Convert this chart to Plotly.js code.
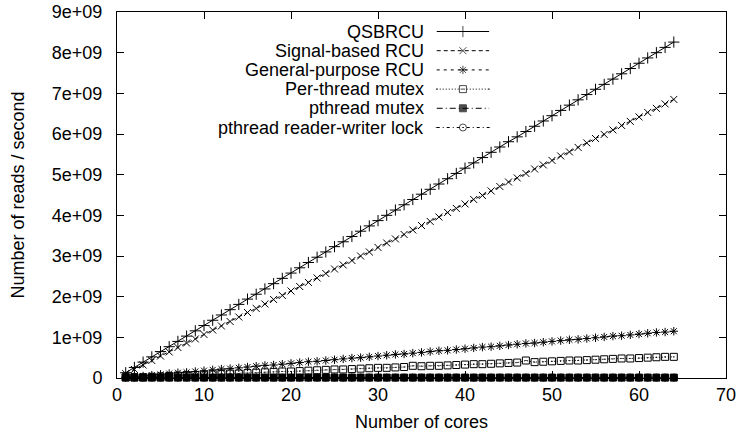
<!DOCTYPE html>
<html><head><meta charset="utf-8">
<script src="https://cdn.plot.ly/plotly-3.0.1.min.js"></script>
<style>html,body{margin:0;padding:0;background:#fff}#chart{width:737px;height:433px}</style>
</head><body><div id="chart"></div>
<script>
// Values in units of 1e9 reads/second
const cores = [1,2,3,4,5,6,7,8,9,10,11,12,13,14,15,16,17,18,19,20,21,22,23,24,25,26,27,28,29,30,31,32,33,34,35,36,37,38,39,40,41,42,43,44,45,46,47,48,49,50,51,52,53,54,55,56,57,58,59,60,61,62,63,64];
const qsbrcu = [0.13,0.26,0.39,0.52,0.65,0.77,0.90,1.03,1.16,1.29,1.42,1.55,1.68,1.81,1.94,2.06,2.19,2.32,2.45,2.58,2.71,2.84,2.97,3.10,3.23,3.35,3.48,3.61,3.74,3.87,4.00,4.13,4.26,4.39,4.52,4.64,4.77,4.90,5.03,5.16,5.29,5.42,5.55,5.68,5.81,5.93,6.06,6.19,6.32,6.45,6.58,6.71,6.84,6.97,7.10,7.22,7.35,7.48,7.61,7.74,7.87,8.00,8.13,8.26];
const signalRcu = [0.11,0.21,0.32,0.43,0.54,0.64,0.75,0.86,0.96,1.07,1.18,1.28,1.39,1.50,1.61,1.71,1.82,1.93,2.03,2.14,2.25,2.35,2.46,2.57,2.68,2.78,2.89,3.00,3.10,3.21,3.32,3.42,3.53,3.64,3.75,3.85,3.96,4.07,4.17,4.28,4.39,4.49,4.60,4.71,4.82,4.92,5.03,5.14,5.24,5.35,5.46,5.56,5.67,5.78,5.89,5.99,6.10,6.21,6.31,6.42,6.53,6.63,6.74,6.85];
const generalRcu = [0.02,0.04,0.05,0.07,0.09,0.11,0.13,0.14,0.16,0.18,0.20,0.22,0.23,0.25,0.27,0.29,0.31,0.32,0.34,0.36,0.38,0.40,0.41,0.43,0.45,0.47,0.49,0.50,0.52,0.54,0.56,0.58,0.59,0.61,0.63,0.65,0.67,0.68,0.70,0.72,0.74,0.76,0.77,0.79,0.81,0.83,0.85,0.86,0.88,0.90,0.92,0.94,0.95,0.97,0.99,1.01,1.03,1.04,1.06,1.08,1.10,1.12,1.13,1.15];
const perThreadMutex = [0.01,0.02,0.02,0.03,0.04,0.05,0.06,0.07,0.07,0.08,0.09,0.10,0.11,0.11,0.12,0.13,0.14,0.15,0.16,0.16,0.17,0.18,0.19,0.20,0.21,0.21,0.22,0.23,0.24,0.25,0.25,0.26,0.27,0.30,0.29,0.30,0.30,0.31,0.32,0.33,0.34,0.34,0.35,0.36,0.37,0.38,0.43,0.39,0.40,0.41,0.42,0.43,0.43,0.44,0.45,0.46,0.47,0.48,0.48,0.49,0.50,0.51,0.52,0.52];
const pthreadMutex = [0.02,0.01,0.01,0.01,0.01,0.01,0.01,0.01,0.01,0.01,0.01,0.01,0.01,0.01,0.01,0.01,0.01,0.01,0.01,0.01,0.01,0.01,0.01,0.01,0.01,0.01,0.01,0.01,0.01,0.01,0.01,0.01,0.01,0.01,0.01,0.01,0.01,0.01,0.01,0.01,0.01,0.01,0.01,0.01,0.01,0.01,0.01,0.01,0.01,0.01,0.01,0.01,0.01,0.01,0.01,0.01,0.01,0.01,0.01,0.01,0.01,0.01,0.01,0.01];
const pthreadRwlock = [0.01,0.01,0.01,0.01,0.01,0.01,0.01,0.01,0.01,0.01,0.01,0.01,0.01,0.01,0.01,0.01,0.01,0.01,0.01,0.01,0.01,0.01,0.01,0.01,0.01,0.01,0.01,0.01,0.01,0.01,0.01,0.01,0.01,0.01,0.01,0.01,0.01,0.01,0.01,0.01,0.01,0.01,0.01,0.01,0.01,0.01,0.01,0.01,0.01,0.01,0.01,0.01,0.01,0.01,0.01,0.01,0.01,0.01,0.01,0.01,0.01,0.01,0.01,0.01];
const seriesNames = ["QSBRCU","Signal-based RCU","General-purpose RCU","Per-thread mutex","pthread mutex","pthread reader-writer lock"];
const yTickVals = [0,1,2,3,4,5,6,7,8,9];
const yTickText = ["0","1e+09","2e+09","3e+09","4e+09","5e+09","6e+09","7e+09","8e+09","9e+09"];
const xTickVals = [0,10,20,30,40,50,60,70];

const seriesData = [qsbrcu, signalRcu, generalRcu, perThreadMutex, pthreadMutex, pthreadRwlock];
const styles = [
  {dash:'solid', symbol:'cross-thin-open', size:8},
  {dash:'4px,3px', symbol:'x-thin-open', size:7},
  {dash:'3px,4px', symbol:'asterisk-open', size:7},
  {dash:'1px,2px', symbol:'square-open-dot', size:7},
  {dash:'6px,3px,1px,3px', symbol:'square', size:7},
  {dash:'3px,3px,1px,3px', symbol:'circle-open-dot', size:7}
];
const drawOrder = [5,4,3,2,1,0];
const traces = [];
drawOrder.forEach(i => {
  traces.push({
    x: cores, y: seriesData[i], type:'scatter', mode:'lines+markers', name: seriesNames[i],
    showlegend:false, cliponaxis:false,
    line:{color:'#000', width:1, dash:styles[i].dash},
    marker:{symbol:styles[i].symbol, size:styles[i].size, color:'#000', line:{color:'#000', width:1}}
  });
});
// custom gnuplot-style key (text, then line sample with marker)
const keyY = [0.9467,0.8943,0.8418,0.7893,0.7369,0.6844];
const annotations = [];
const fontF = 'Liberation Sans, Arial, sans-serif';
seriesNames.forEach((n,i) => {
  traces.push({
    x:[0.525,0.568,0.611], y:[keyY[i],keyY[i],keyY[i]], xaxis:'x2', yaxis:'y2',
    type:'scatter', mode:'lines+markers', showlegend:false, hoverinfo:'skip',
    line:{color:'#000', width:1, dash:styles[i].dash},
    marker:{symbol:styles[i].symbol, size:[0,styles[i].size,0], color:'#000', line:{color:'#000', width:1}}
  });
  annotations.push({xref:'paper', yref:'paper', x:0.5057, y:keyY[i], xanchor:'right', yanchor:'middle',
    text:n, showarrow:false, borderpad:0,
    font:{family:fontF, size:18, color:'#000'}});
});

const layout = {
  width:737, height:433,
  margin:{l:117, r:11, t:12, b:55},
  paper_bgcolor:'#fff', plot_bgcolor:'#fff',
  font:{family:fontF, size:18, color:'#000'},
  showlegend:false,
  xaxis:{range:[0,70], tickvals:xTickVals, ticks:'inside', ticklen:7, tickcolor:'#000',
    showline:true, linecolor:'#000', linewidth:1, mirror:'allticks', showgrid:false, zeroline:false,
    tickfont:{size:18}, title:{text:'Number of cores', font:{size:18}, standoff:11}},
  yaxis:{range:[0,9], tickvals:yTickVals, ticktext:yTickText, ticks:'inside', ticklen:7, tickcolor:'#000',
    showline:true, linecolor:'#000', linewidth:1, mirror:'allticks', showgrid:false, zeroline:false,
    ticklabelstandoff:10,
    tickfont:{size:18}, title:{text:'Number of reads / second', font:{size:18}, standoff:22}},
  xaxis2:{overlaying:'x', range:[0,1], visible:false},
  yaxis2:{overlaying:'y', range:[0,1], visible:false},
  annotations: annotations
};
Plotly.newPlot('chart', traces, layout, {displayModeBar:false, staticPlot:true});
</script>
</body></html>
